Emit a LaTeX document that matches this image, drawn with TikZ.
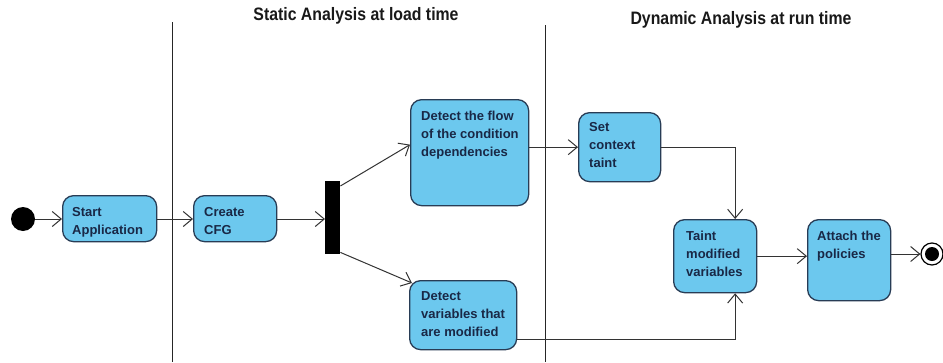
\documentclass[tikz,border=0pt]{standalone}
\usepackage{fontspec}
\setmainfont{Liberation Sans}
\newfontfamily\titlefont[FakeStretch=0.88]{Liberation Sans}
\usetikzlibrary{arrows.meta}
\definecolor{boxfill}{RGB}{108,200,238}
\definecolor{boxdraw}{RGB}{40,60,85}
\definecolor{txtcol}{RGB}{25,40,70}
\begin{document}
\begin{tikzpicture}[x=1pt,y=-1pt,
  act/.style={draw=boxdraw, fill=boxfill, line width=1.3pt, rounded corners=11pt, inner sep=0pt, anchor=north west},
  lbl/.style={anchor=north west, inner sep=0pt, align=left, font=\fontsize{13}{18}\selectfont\bfseries, text=txtcol},
  arr/.style={draw=black!80, line width=1pt, -{Straight Barb[length=9pt,width=15pt]}},
  lane/.style={draw=black!85, line width=1pt},
  ttl/.style={font=\titlefont\bfseries\fontsize{18}{20}\selectfont, text=black!90}]
\useasboundingbox[fill=white] (0,0) rectangle (943,362);
% swimlane separators and titles
\coordinate (l1t) at (172,22);
\coordinate (l1b) at (172,362);
\coordinate (l2t) at (545,25);
\coordinate (l2b) at (545,362);
\draw[lane] (l1t) -- (l1b);
\draw[lane] (l2t) -- (l2b);
\node[ttl] (t1) at (356,16) {Static Analysis at load time};
\node[ttl] (t2) at (741,20) {Dynamic Analysis at run time};
% start node
\node[circle, fill=black, minimum size=24pt, inner sep=0pt] (st) at (23,219) {};
% activities
\node[act, minimum width=94pt, minimum height=46pt] (sa) at (62,195) {};
\node[lbl] (sat) at ([shift={(10,12)}]sa.north west) {Start\\Application};
\node[act, minimum width=83pt, minimum height=46pt] (cfg) at (193,195) {};
\node[lbl] (cfgt) at ([shift={(11,12)}]cfg.north west) {Create\\CFG};
\node[fill=black, minimum width=15pt, minimum height=73pt, inner sep=0pt, anchor=north west] (bar) at (325,181) {};
\node[act, minimum width=118pt, minimum height=106pt] (flow) at (410,99) {};
\node[lbl] (flowt) at ([shift={(11,12)}]flow.north west) {Detect the flow\\of the condition\\dependencies};
\node[act, minimum width=107pt, minimum height=69pt] (dv) at (409,280) {};
\node[lbl] (dvt) at ([shift={(12,11)}]dv.north west) {Detect\\variables that\\are modified};
\node[act, minimum width=82pt, minimum height=69pt] (set) at (578,112) {};
\node[lbl] (sett) at ([shift={(11,10)}]set.north west) {Set\\context\\taint};
\node[act, minimum width=83pt, minimum height=73pt] (taint) at (673,219) {};
\node[lbl] (taintt) at ([shift={(13,12)}]taint.north west) {Taint\\modified\\variables};
\node[act, minimum width=83pt, minimum height=81pt] (att) at (807,219) {};
\node[lbl] (attt) at ([shift={(10,12)}]att.north west) {Attach the\\policies};
% end node
\node[circle, draw=black, line width=1.2pt, fill=white, minimum size=22pt, inner sep=0pt] (en) at (932,254) {};
\node[circle, fill=black, minimum size=14pt, inner sep=0pt] (enc) at (en) {};
% connectors
\draw[arr] (st) -- (st -| sa.west);
\draw[arr] (sa.east |- st) -- (cfg.west |- st);
\draw[arr] (cfg.east |- st) -- (bar.west |- st);
\draw[arr] ([yshift=-5pt]bar.north east) -- ([yshift=8pt]flow.west);
\draw[arr] ([yshift=2pt]bar.south east) -- ([shift={(3pt,-3pt)}]dv.north west);
\draw[arr] (flow.east |- set.west) -- (set.west);
\draw[arr] (set.east) -| ([xshift=20pt]taint.north);
\draw[arr] ([yshift=-24pt]dv.east) -| ([xshift=20pt]taint.south);
\draw[arr] (taint.east) -- (taint.east -| att.west);
\draw[arr] (en -| att.east) -- (en.west);
\end{tikzpicture}
\end{document}
